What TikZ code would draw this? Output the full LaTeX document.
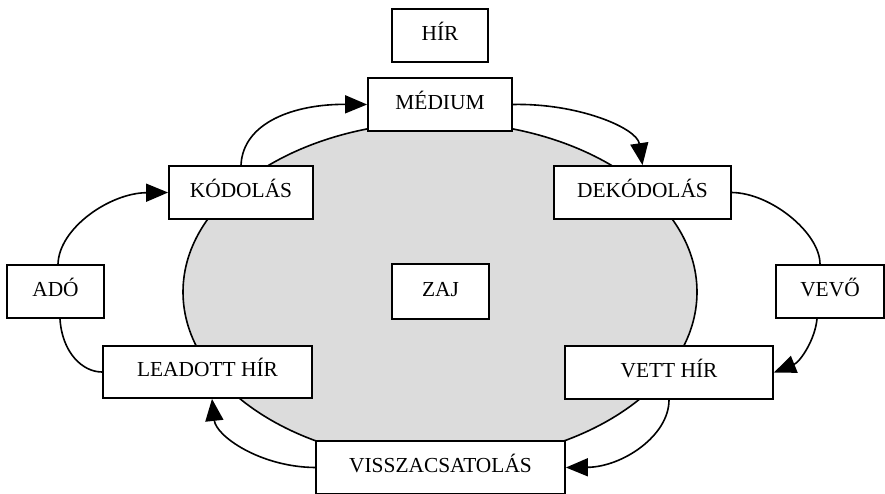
\documentclass[tikz,border=0pt]{standalone}
\usepackage{fontspec}
\setmainfont{Liberation Serif}
\usetikzlibrary{arrows.meta}
\definecolor{noisegray}{RGB}{220,220,220}
\begin{document}
\begin{tikzpicture}[x=1pt,y=-1pt,
  box/.style={draw,line width=1.8pt,fill=white,inner sep=0pt,minimum height=53pt,
    font=\fontsize{21.4}{25}\selectfont,text height=14pt,text depth=5pt,align=center},
  link/.style={line width=1.6pt},
  flow/.style={link,-{Triangle[length=22pt,width=18pt]}}]
\useasboundingbox (0,0) rectangle (885,493);

% noise field behind the process
\fill[noisegray] (440,292) ellipse [x radius=257pt, y radius=170pt];
\draw[line width=1.6pt] (440,292) ellipse [x radius=257pt, y radius=170pt];

% stages of the communication process
\node[box,minimum width=96pt]  (hir)     at (440,35.5)  {HÍR};
\node[box,minimum width=144pt] (medium)  at (440,104.5) {MÉDIUM};
\node[box,minimum width=144pt] (kod)     at (241,192.5) {KÓDOLÁS};
\node[box,minimum width=177pt] (dekod)   at (642.5,192.5) {DEKÓDOLÁS};
\node[box,minimum width=97pt]  (ado)     at (55.5,291.5) {ADÓ};
\node[box,minimum width=97pt,minimum height=55pt] (zaj) at (440.5,291.5) {ZAJ};
\node[box,minimum width=108pt] (vevo)    at (830,291.5) {VEVŐ};
\node[box,minimum width=209pt,minimum height=52pt] (leadott) at (207.5,372) {LEADOTT HÍR};
\node[box,minimum width=208pt] (vett)    at (669,372.5) {VETT HÍR};
\node[box,minimum width=249pt] (vissza)  at (440.5,467.5) {VISSZACSATOLÁS};

% connectors
\draw[flow] ([xshift=2.5pt]ado.north) .. controls (59,228) and (110,193) .. (kod.west);
\draw[flow] (kod.north) .. controls (243,122) and (295,104) .. (medium.west);
\draw[flow] (medium.east) .. controls (578,103) and (637,128) .. (dekod.north);
\draw[link] (dekod.east) .. controls (771,193) and (820,233) .. ([xshift=-10pt]vevo.north);
\draw[flow] ([xshift=-13pt]vevo.south) .. controls (815,340) and (800,362) .. (vett.east);
\draw[flow] (vett.south) .. controls (669,436) and (622,467) .. (vissza.east);
\draw[flow] (vissza.west) .. controls (260,467) and (216,436) .. ([xshift=4.5pt]leadott.south);
\draw[link] ([xshift=4.5pt]ado.south) .. controls (62,352) and (82,372) .. (leadott.west);
\end{tikzpicture}
\end{document}
